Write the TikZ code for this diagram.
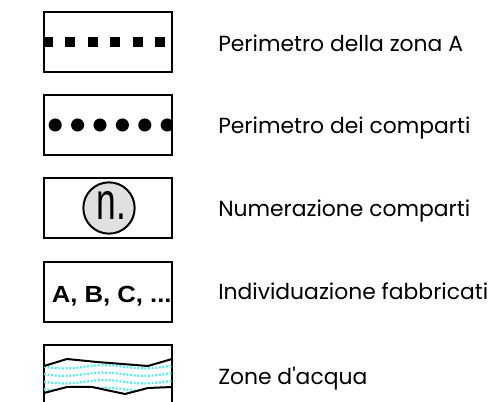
\documentclass[tikz,border=0pt]{standalone}
\usepackage{fontspec}
\setmainfont{Poppins}[Ligatures=TeXOff]
\newfontfamily\symfont{Liberation Sans}
\definecolor{water}{HTML}{5CEEEE}
\begin{document}
\begin{tikzpicture}[x=0.75pt,y=-0.75pt,
  legbox/.style={draw=black, line width=1.5pt, minimum width=96pt, minimum height=45pt, inner sep=0, outer sep=0},
  lab/.style={anchor=base west, inner sep=0, font=\fontsize{16.4}{20}\selectfont},
  wline/.style={draw=water, line width=1.7pt, dash pattern=on 1.5pt off 1.2pt},
  blk/.style={draw=black, line width=1.5pt}]
\useasboundingbox (0,0) rectangle (489,402);
\clip (0,0) rectangle (489,402);

% box 1 : square dots
\node[legbox] (b1) at (108,42) {};
\begin{scope}
  \clip (b1.south west) rectangle (b1.north east);
  \foreach \i in {0,...,5} \fill ({43+22.4*\i},37) rectangle +(10,10);
\end{scope}
\node[lab] (t1) at (218,51.5) {Perimetro della zona A};

% box 2 : round dots
\node[legbox] (b2) at (108,125) {};
\begin{scope}
  \clip (b2.south west) rectangle (b2.north east);
  \foreach \i in {0,...,5} \fill ({55.2+22.4*\i},125) circle[radius=4.9pt];
\end{scope}
\node[lab] (t2) at (218,133.3) {Perimetro dei comparti};

% box 3 : numbered circle
\node[legbox] (b3) at (108,208.5) {};
\node[circle, draw=black, fill=black!12, line width=1.5pt, minimum size=38.5pt, inner sep=0] (num) at (109,208) {};
\node[inner sep=0, xscale=0.68] (numt) at (111.5,205.5) {\symfont\fontsize{39}{40}\selectfont n.};
\node[lab] (t3) at (218,216.5) {Numerazione comparti};

% box 4 : letters
\node[legbox] (b4) at (108,292) {};
\begin{scope}
  \clip (b4.south west) rectangle (b4.north east);
  \node[anchor=base west, inner sep=0, xscale=1.1] (abc) at (51.5,302.5) {\symfont\bfseries\fontsize{17.5}{20}\selectfont A, B, C, ...};
\end{scope}
\node[lab] (t4) at (218,300) {Individuazione fabbricati};

% box 5 : water
\node[legbox, minimum height=48pt] (b5) at (108,377) {};
\begin{scope}
  \clip (44,366) -- (67,359) -- (97,362) -- (148,366) -- (172,359) -- (172,387) -- (148,388) -- (125,394) -- (92,387) -- (67,387) -- (44,393) -- cycle;
  \foreach \yy in {366.8,374.2,381.8,389.3}
    \draw[wline] plot[domain=44:172, samples=60] (\x, {\yy+1.6*sin(4.5*(\x-44))});
\end{scope}
\draw[blk] (44,366) -- (67,359) -- (97,362) -- (148,366) -- (172,359);
\draw[blk] (44,393) -- (67,387) -- (92,387) -- (125,394) -- (148,388) -- (172,387);
\node[lab] (t5) at (218,385) {Zone d'acqua};
\end{tikzpicture}
\end{document}
